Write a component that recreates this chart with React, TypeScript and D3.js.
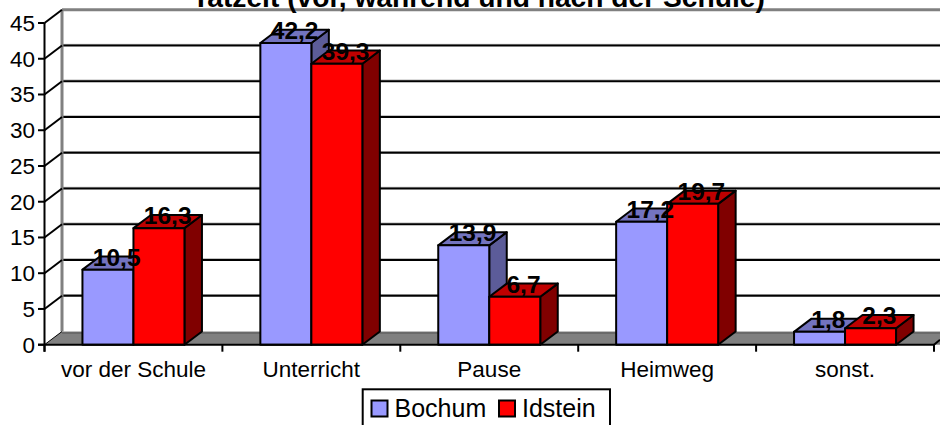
import React from "react";
import * as d3 from "d3";

const title = "Tatzeit (vor, während und nach der Schule)";
const categories = ["vor der Schule", "Unterricht", "Pause", "Heimweg", "sonst."];
const bochum = [10.5, 42.2, 13.9, 17.2, 1.8];
const idstein = [16.3, 39.3, 6.7, 19.7, 2.3];
const ticks = [0, 5, 10, 15, 20, 25, 30, 35, 40, 45];
const seriesNames = ["Bochum", "Idstein"];

const DX = 17.5;
const DY = -13.2;
const FONT = "Liberation Sans, Arial, sans-serif";

const y = d3.scaleLinear().domain([0, 45]).range([344.7, 23]);
const x = d3.scaleBand<string>().domain(categories).range([44.5, 934]).paddingInner(0).paddingOuter(0);
const edges = [...categories.map((c) => x(c) as number), 934];

const series = [
  { name: seriesNames[0], values: bochum, front: "#9999ff", top: "#7373bf", side: "#5c5c99" },
  { name: seriesNames[1], values: idstein, front: "#ff0000", top: "#bf0000", side: "#800000" },
];
const barW = 51;
const SW = 2;

function poly(pts: number[][]) {
  return d3.line()(pts as [number, number][]) + "Z";
}

function Bar({ cat, v, i, s }: { cat: string; v: number; i: number; s: (typeof series)[number] }) {
  const c = (x(cat) as number) + x.bandwidth() / 2;
  const x0 = c - barW + i * barW;
  const x1 = x0 + barW;
  const y0 = y(0);
  const yv = y(v);
  const st = { stroke: "#000", strokeWidth: SW, strokeLinejoin: "round" as const };
  return (
    <g>
      <path d={poly([[x1, y0], [x1 + DX, y0 + DY], [x1 + DX, yv + DY], [x1, yv]])} fill={s.side} {...st} />
      <path d={poly([[x0, yv], [x0 + DX, yv + DY], [x1 + DX, yv + DY], [x1, yv]])} fill={s.top} {...st} />
      <path d={poly([[x0, y0], [x0, yv], [x1, yv], [x1, y0]])} fill={s.front} {...st} />
    </g>
  );
}

export default function App() {
  const y0 = y(0);
  const right = 960;
  return (
    <svg width={940} height={425} style={{ position: "absolute", left: 0, top: 0, background: "#fff" }} fontFamily={FONT}>
      {/* floor */}
      <path d={poly([[44.5, y0], [44.5 + DX, y0 + DY], [right, y0 + DY], [right, y0]])} fill="#808080" />
      {/* wall gridlines */}
      {ticks.slice(1, -1).map((t) => (
        <g key={t}>
          <line x1={44.5 + DX} x2={right} y1={y(t) + DY - 1.2} y2={y(t) + DY - 1.2} stroke="#aaa" strokeWidth={1} />
          <line x1={44.5 + DX} x2={right} y1={y(t) + DY} y2={y(t) + DY} stroke="#000" strokeWidth={SW} />
        </g>
      ))}
      <line x1={44.5 + DX} x2={right} y1={y(0) + DY + 1.5} y2={y(0) + DY + 1.5} stroke="#555" strokeWidth={1} />
      <line x1={44.5 + DX} x2={right} y1={y(45) + DY} y2={y(45) + DY} stroke="#808080" strokeWidth={3} />
      <line x1={44.5 + DX} x2={44.5 + DX} y1={y(0) + DY} y2={y(45) + DY} stroke="#808080" strokeWidth={3} />
      {/* left diagonal ticks */}
      {ticks.map((t) => (
        <line key={t} x1={44.5} y1={y(t)} x2={44.5 + DX} y2={y(t) + DY} stroke="#000" strokeWidth={t === 0 ? 1 : SW} />
      ))}
      {/* bars */}
      {categories.map((c, k) => (
        <g key={c}>
          {series.map((s, i) => (
            <Bar key={s.name} cat={c} v={s.values[k]} i={i} s={s} />
          ))}
        </g>
      ))}
      {/* axes */}
      <line x1={44.5} x2={44.5} y1={y(45)} y2={y0 + 7} stroke="#000" strokeWidth={SW} />
      <line x1={38} x2={934} y1={y0} y2={y0} stroke="#000" strokeWidth={SW} />
      <line x1={934} y1={y0} x2={940} y2={y0 - 5} stroke="#000" strokeWidth={SW} />
      {ticks.map((t) => (
        <g key={t}>
          <line x1={38} x2={44.5} y1={y(t)} y2={y(t)} stroke="#000" strokeWidth={SW} />
          <text x={35} y={y(t) + 8} textAnchor="end" fontSize={22.5} fill="#000">{t}</text>
        </g>
      ))}
      {edges.map((e) => (
        <line key={e} x1={e} x2={e} y1={y0} y2={y0 + 7} stroke="#000" strokeWidth={SW} />
      ))}
      {categories.map((c) => (
        <text key={c} x={(x(c) as number) + x.bandwidth() / 2} y={377} textAnchor="middle" fontSize={22.5} fill="#000">{c}</text>
      ))}
      {/* value labels */}
      {categories.map((c, k) =>
        series.map((s, i) => {
          const cx = (x(c) as number) + x.bandwidth() / 2 - barW + i * barW + barW / 2 + DX / 2;
          return (
            <text key={s.name + c} x={cx} y={y(s.values[k]) - 4} textAnchor="middle" fontSize={24.5} fontWeight="bold" fill="#000">
              {String(s.values[k]).replace(".", ",")}
            </text>
          );
        })
      )}
      <text x={478.5} y={7} textAnchor="middle" fontSize={28.2} fontWeight="bold" fill="#000">{title}</text>
      {/* legend */}
      <rect x={362.7} y={389.3} width={247.3} height={50} fill="#fff" stroke="#000" strokeWidth={SW} />
      {series.map((s, i) => {
        const lx = [371.5, 499][i];
        return (
          <g key={s.name}>
            <rect x={lx} y={400.5} width={16} height={16} fill={s.front} stroke="#000" strokeWidth={SW} />
            <text x={lx + 23} y={417} fontSize={25} fill="#000">{s.name}</text>
          </g>
        );
      })}
    </svg>
  );
}
